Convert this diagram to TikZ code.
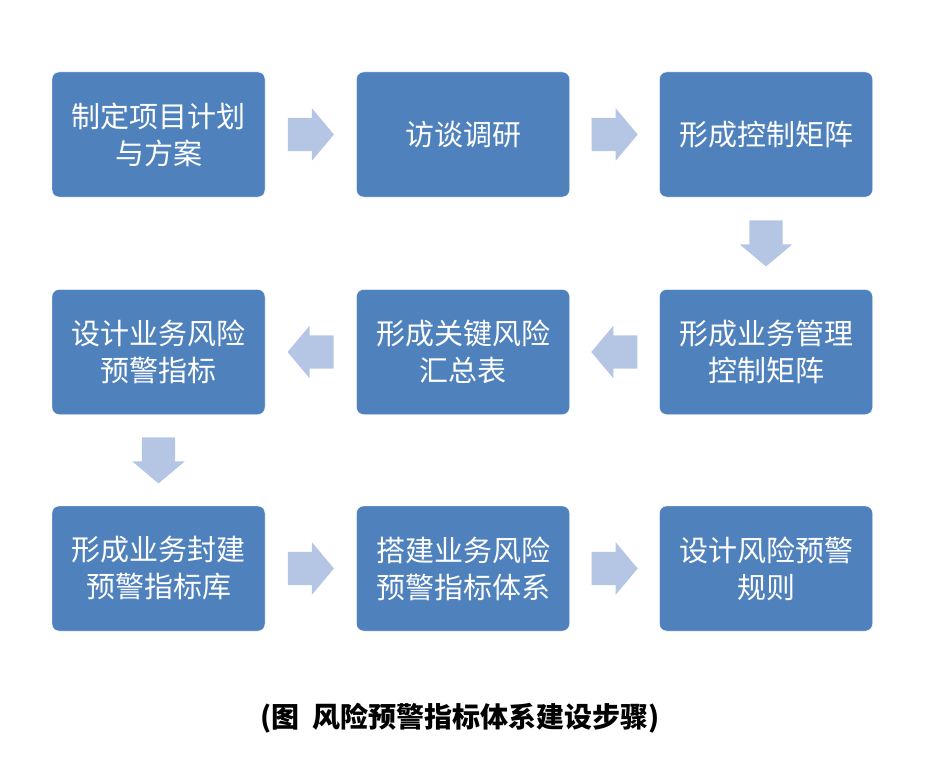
\documentclass[tikz,border=0pt]{standalone}
\usepackage{fontspec}
\newfontfamily\cjk{Noto Sans CJK SC}
\usetikzlibrary{shapes.arrows,calc}
\definecolor{boxblue}{HTML}{4F81BD}
\definecolor{arrowblue}{HTML}{B4C6E3}

\begin{document}
\begin{tikzpicture}[x=1pt,y=-1pt]
\tikzstyle{stepbox}=[rectangle,rounded corners=7pt,fill=boxblue,draw=white,minimum width=213pt,minimum height=125pt,text=white,align=center,font=\cjk\fontsize{29}{37}\selectfont]
\tikzstyle{blockarrow}=[single arrow,fill=arrowblue,draw=none,minimum height=46pt,single arrow head extend=9.5pt,single arrow head indent=0pt,single arrow tip angle=100,anchor=tail]
\tikzstyle{sidearrow}=[blockarrow,inner xsep=0pt,inner ysep=16.5pt]
\tikzstyle{downarrow}=[blockarrow,inner xsep=16.5pt,inner ysep=0pt,shape border rotate=270]
\useasboundingbox (0,0) rectangle (937,765);
\node[stepbox] (jihua) at (158.5,134.5) {制定项目计划\\与方案};
\node[stepbox] (diaoyan) at (463,134.5) {访谈调研};
\node[stepbox] (juzhen) at (766,134.5) {形成控制矩阵};
\node[stepbox] (guanli) at (766,352) {形成业务管理\\控制矩阵};
\node[stepbox] (huizong) at (463,352) {形成关键风险\\汇总表};
\node[stepbox] (zhibiao) at (158.5,352) {设计业务风险\\预警指标};
\node[stepbox] (zhibiaoku) at (158.5,568.5) {形成业务封建\\预警指标库};
\node[stepbox] (tixi) at (463,568.5) {搭建业务风险\\预警指标体系};
\node[stepbox] (guize) at (766,568.5) {设计风险预警\\规则};
% block arrows between the steps
\node[sidearrow] (a1) at ($(jihua.east)!0.5!(diaoyan.west)+(-23,0)$) {};
\node[sidearrow] (a2) at ($(diaoyan.east)!0.5!(juzhen.west)+(-23,0)$) {};
\node[downarrow] (a3) at ($(juzhen.south)!0.5!(guanli.north)+(0,-23)$) {};
\node[sidearrow,shape border rotate=180] (a4) at ($(guanli.west)!0.5!(huizong.east)+(23,0)$) {};
\node[sidearrow,shape border rotate=180] (a5) at ($(huizong.west)!0.5!(zhibiao.east)+(23,0)$) {};
\node[downarrow] (a6) at ($(zhibiao.south)!0.5!(zhibiaoku.north)+(0,-23)$) {};
\node[sidearrow] (a7) at ($(zhibiaoku.east)!0.5!(tixi.west)+(-23,0)$) {};
\node[sidearrow] (a8) at ($(tixi.east)!0.5!(guize.west)+(-23,0)$) {};
\node[font=\cjk\bfseries\fontsize{28}{30}\selectfont] (caption) at (460,718) {(图\ \ 风险预警指标体系建设步骤)};
\end{tikzpicture}
\end{document}
